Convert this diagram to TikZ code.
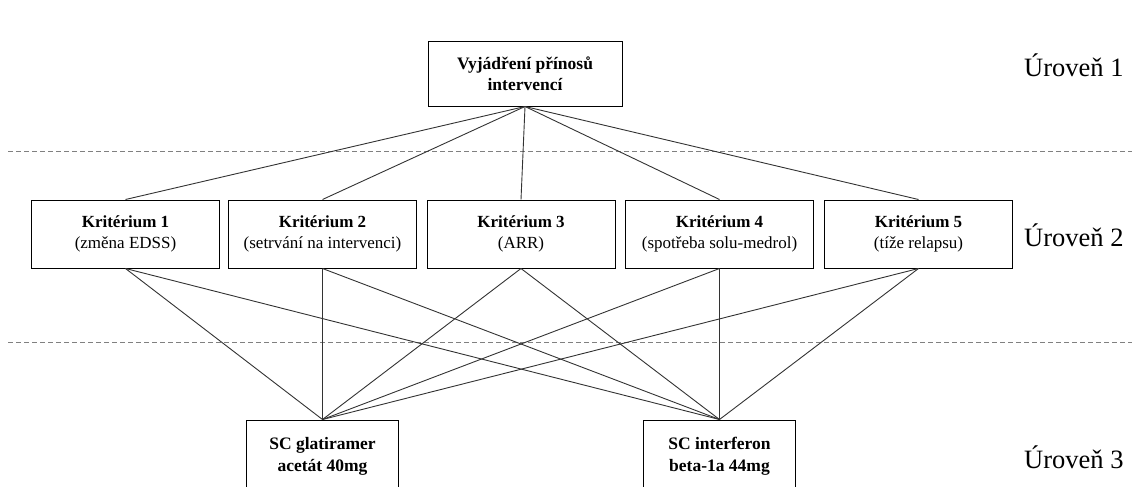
\documentclass[tikz,border=0pt]{standalone}
\usepackage{fontspec}
\setmainfont{Liberation Serif}
\usetikzlibrary{calc}
\usetikzlibrary{positioning}
\tikzstyle{goalnode} = [draw, rectangle, line width=1pt, minimum width=194pt, minimum height=64pt, align=center, font=\fontsize{17.5}{21}\selectfont\bfseries]
\tikzstyle{critnode} = [draw, rectangle, line width=1pt, minimum width=188pt, minimum height=68pt, align=center, font=\fontsize{17}{21}\selectfont]
\tikzstyle{altnode} = [draw, rectangle, line width=1pt, minimum width=152pt, minimum height=72pt, align=center, font=\fontsize{17.5}{22}\selectfont\bfseries]
\tikzstyle{levelnode} = [anchor=base west, inner sep=0pt, font=\fontsize{26.5}{30}\selectfont]
\tikzstyle{link} = [black!80, line width=0.9pt]
\tikzstyle{levelline} = [gray, line width=0.9pt, dash pattern=on 5pt off 3pt]

\begin{document}
\begin{tikzpicture}[x=1pt, y=-1pt]
\useasboundingbox (0,0) rectangle (1132,487);
\node[goalnode] (goal) at (525,74) {Vyjádření přínosů\\intervencí};

\node[critnode] (crit1) at (125.5,234) {\textbf{Kritérium 1}\\(změna EDSS)};
\node[critnode] (crit2) at ($(crit1)+(197,0)$) {\textbf{Kritérium 2}\\(setrvání na intervenci)};
\node[critnode] (crit3) at ($(crit2)+(198.5,0)$) {\textbf{Kritérium 3}\\(ARR)};
\node[critnode] (crit4) at ($(crit3)+(198.5,0)$) {\textbf{Kritérium 4}\\(spotřeba solu-medrol)};
\node[critnode] (crit5) at ($(crit4)+(199,0)$) {\textbf{Kritérium 5}\\(tíže relapsu)};

\node[altnode] (alt1) at ($(crit2)+(0,222)$) {SC glatiramer\\acetát 40mg};
\node[altnode] (alt2) at ($(crit4)+(0,222)$) {SC interferon\\beta-1a 44mg};

\node[levelnode] (level1) at (1024,77) {Úroveň 1};
\node[levelnode] (level2) at (1024,246) {Úroveň 2};
\node[levelnode] (level3) at (1024,468) {Úroveň 3};

\coordinate (sepA_l) at (8,151);
\coordinate (sepA_r) at (1132,151);
\coordinate (sepB_l) at (8,342);
\coordinate (sepB_r) at (1132,342);
\draw[levelline] (sepA_l) -- (sepA_r);
\draw[levelline] (sepB_l) -- (sepB_r);

\draw[link] (goal.south) -- (crit1.north);
\draw[link] (goal.south) -- (crit2.north);
\draw[link] (goal.south) -- (crit3.north);
\draw[link] (goal.south) -- (crit4.north);
\draw[link] (goal.south) -- (crit5.north);

\draw[link] (crit1.south) -- (alt1.north);
\draw[link] (crit1.south) -- (alt2.north);
\draw[link] (crit2.south) -- (alt1.north);
\draw[link] (crit2.south) -- (alt2.north);
\draw[link] (crit3.south) -- (alt1.north);
\draw[link] (crit3.south) -- (alt2.north);
\draw[link] (crit4.south) -- (alt1.north);
\draw[link] (crit4.south) -- (alt2.north);
\draw[link] (crit5.south) -- (alt1.north);
\draw[link] (crit5.south) -- (alt2.north);
\end{tikzpicture}
\end{document}
